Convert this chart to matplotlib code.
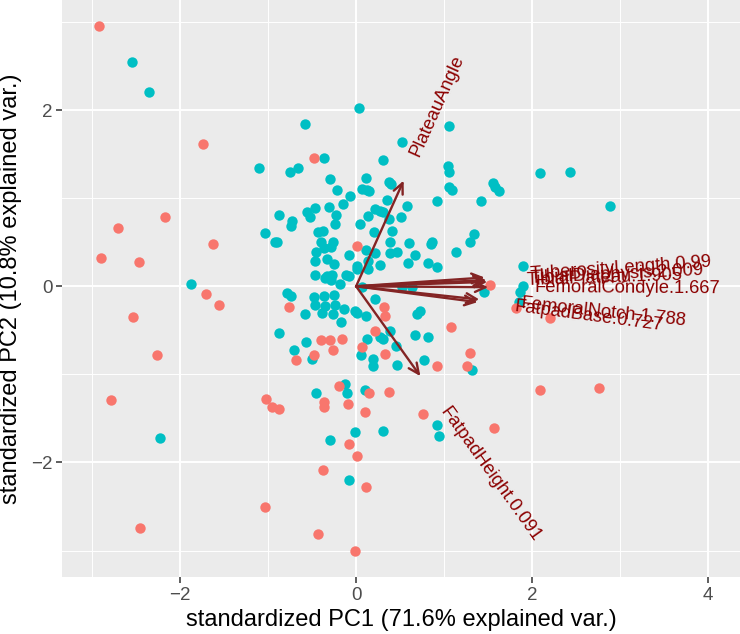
import math
import numpy as np
import matplotlib
matplotlib.use("Agg")
import matplotlib.pyplot as plt
import matplotlib.transforms as mtransforms

plt.rcParams['font.family'] = ['Liberation Sans', 'DejaVu Sans']

# scores, group 1 (red)
red_x = [-2.92, -1.74, -0.48, -2.17, -2.70, -1.63, 0.01, -2.90, -2.46, 1.52,
         -1.70, -1.56, -0.76, 0.32, 0.33, 1.82, 2.20, -2.53, 1.08, 0.22,
         -0.40, -0.30, -0.16, -0.26, 0.07, 0.33, -0.48, -0.68, 0.92, 1.29,
         1.26, -2.26, 2.09, 2.76, -0.19, 0.15, 0.37, -2.78, -1.02, -0.95,
         -0.87, -0.37, -0.37, -0.09, 0.10, 0.76, 1.57, -0.08, 0.01, -0.38,
         0.11, -1.03, -2.45, -0.43, -0.01]
red_y = [2.95, 1.61, 1.46, 0.79, 0.66, 0.48, 0.46, 0.32, 0.28, 0.01,
         -0.09, -0.21, -0.24, -0.24, -0.34, -0.25, -0.36, -0.35, -0.46, -0.51,
         -0.61, -0.61, -0.60, -0.72, -0.69, -0.77, -0.78, -0.84, -0.90, -0.76,
         -0.91, -0.78, -1.18, -1.16, -1.13, -1.21, -1.20, -1.29, -1.28, -1.37,
         -1.39, -1.31, -1.37, -1.34, -1.43, -1.45, -1.61, -1.79, -1.93, -2.08,
         -2.28, -2.50, -2.74, -2.81, -3.00]

# scores, group 2 (teal)
teal_x = [-2.54, -2.35, 0.03, -0.58, 1.06, 0.52, -0.37, 0.30, -1.10, -0.75,
          -0.66, -0.30, 0.11, 0.37, 0.40, 1.04, 1.06, 2.09, 2.43, -0.22,
          0.07, 0.12, 0.15, 1.05, 1.09, 1.56, 1.58, 1.62, -0.07, 0.92,
          1.42, 2.88, -0.15, 0.35, -0.56, -0.47, -0.31, -0.52, -0.23, 0.22,
          0.27, 0.13, 0.58, 0.31, 0.37, 0.51, -0.87, -0.73, -0.74, -0.24,
          0.05, -0.43, -0.38, 0.20, 0.41, -1.03, -0.92, -0.90, -0.40, -0.26,
          -0.36, -0.29, 0.38, 0.60, 0.85, 0.86, 1.34, 1.29, 1.14, -0.46,
          -0.08, 0.11, 0.22, 0.38, 0.47, 0.67, 0.82, 0.92, 0.59, -0.47,
          -0.33, -0.25, 0.01, 0.01, 0.13, 0.14, 0.27, -0.47, -0.33, -0.27,
          -0.12, -0.08, -0.28, -0.18, -0.35, 1.90, -1.87, 0.07, 0.52, 0.63,
          1.45, 1.89, 1.86, 1.85, -0.78, -0.74, -0.48, -0.36, -0.25, -0.47,
          -0.35, -0.24, -0.58, -0.39, -0.26, -0.14, -0.01, 0.01, 0.11, -0.17,
          0.69, 0.73, -0.87, 0.39, 0.12, 0.27, 0.30, 0.67, 0.82, -0.57,
          -0.70, 0.45, 0.06, -0.50, 0.19, 0.19, 0.47, 0.77, 1.32, -0.13,
          -0.10, -0.45, 0.92, 0.94, -2.23, -0.01, 0.30, -0.30, -0.08, 0.22,
          0.10]
teal_y = [2.55, 2.21, 2.02, 1.84, 1.82, 1.64, 1.46, 1.43, 1.34, 1.30,
          1.34, 1.22, 1.23, 1.18, 1.16, 1.37, 1.30, 1.29, 1.30, 1.09,
          1.11, 1.09, 1.08, 1.13, 1.09, 1.17, 1.13, 1.08, 1.03, 0.97,
          0.97, 0.91, 0.93, 0.98, 0.84, 0.89, 0.90, 0.79, 0.81, 0.88,
          0.85, 0.80, 0.91, 0.84, 0.76, 0.79, 0.81, 0.74, 0.68, 0.71,
          0.71, 0.62, 0.63, 0.62, 0.63, 0.60, 0.50, 0.50, 0.50, 0.50,
          0.44, 0.45, 0.50, 0.49, 0.48, 0.50, 0.59, 0.50, 0.39, 0.39,
          0.36, 0.41, 0.38, 0.38, 0.39, 0.35, 0.26, 0.22, 0.26, 0.29,
          0.31, 0.25, 0.23, 0.20, 0.29, 0.20, 0.24, 0.13, 0.12, 0.13,
          0.13, 0.12, 0.07, 0.03, 0.09, 0.23, 0.03, -0.01, -0.01, -0.01,
          -0.06, 0.00, -0.07, -0.18, -0.08, -0.11, -0.12, -0.11, -0.10, -0.21,
          -0.22, -0.21, -0.32, -0.30, -0.31, -0.26, -0.28, -0.30, -0.34, -0.40,
          -0.31, -0.28, -0.53, -0.51, -0.60, -0.57, -0.60, -0.55, -0.57, -0.63,
          -0.72, -0.68, -0.78, -0.82, -0.83, -0.90, -0.89, -0.84, -0.95, -1.11,
          -1.21, -1.21, -1.57, -1.70, -1.72, -1.65, -1.64, -1.75, -2.20, -0.14,
          -1.18]

# variable loadings (arrow tips)
var_names = ["PlateauAngle", "FatpadHeight.0.091", "TuberosityLength.0.99",
             "TibialDiaphysis.2.009", "TibialPlateau.1.905",
             "FemoralCondyle.1.667", "FemoralNotch.1.788", "FatpadBase.0.727"]
var_x = [0.54, 0.73, 1.46, 1.48, 1.49, 1.50, 1.40, 1.38]
var_y = [1.20, -1.02, 0.10, 0.07, 0.05, -0.01, -0.15, -0.18]

fig = plt.figure(figsize=(7.4, 6.34), dpi=100)
ax = fig.add_axes([62/740, 57/634, 678/740, 577/634])
ax.set_facecolor('#EBEBEB')
ax.set_xlim(-3.34, 4.36)
ax.set_ylim(-3.30, 3.25)

ax.set_xticks([-2, 0, 2, 4])
ax.set_yticks([-2, 0, 2])
ax.set_xticks([-3, -1, 1, 3], minor=True)
ax.set_yticks([-3, -1, 1, 3], minor=True)
ax.grid(which='major', color='white', linewidth=1.4)
ax.grid(which='minor', color='white', linewidth=0.7)
ax.set_axisbelow(True)
for s in ax.spines.values():
    s.set_visible(False)
ax.tick_params(which='major', length=4, width=1.1, color='#333333',
               labelsize=13.5, labelcolor='#4D4D4D', pad=3)
ax.tick_params(which='minor', length=0)

ax.scatter(teal_x, teal_y, s=56, color='#00BFC4', linewidths=0, zorder=2)
ax.scatter(red_x, red_y, s=56, color='#F8766D', linewidths=0, zorder=2)

for x, y in zip(var_x, var_y):
    ax.annotate('', xy=(x, y), xytext=(0, 0),
                arrowprops=dict(arrowstyle='->,head_length=0.75,head_width=0.35',
                                color='#832424', lw=1.7, shrinkA=0, shrinkB=0),
                zorder=3)

# labels: hjust = -0.25 like ggbiplot
fig.canvas.draw()
renderer = fig.canvas.get_renderer()
for name, x, y in zip(var_names, var_x, var_y):
    ang = math.degrees(math.atan(y / x))
    t = ax.text(x, y, name, fontsize=13.2, color='#8B0000', ha='left', va='center')
    w = t.get_window_extent(renderer).width
    dx = 0.25 * w * math.cos(math.radians(ang))
    dy = 0.25 * w * math.sin(math.radians(ang))
    t.set_transform(mtransforms.offset_copy(ax.transData, fig, x=dx, y=dy, units='dots'))
    t.set_rotation(ang)
    t.set_rotation_mode('anchor')
    t.set_zorder(4)

ax.set_xlabel("standardized PC1 (71.6% explained var.)", fontsize=17, labelpad=4)
ax.set_ylabel("standardized PC2 (10.8% explained var.)", fontsize=17, labelpad=6)

fig.savefig("out.png", dpi=100)
